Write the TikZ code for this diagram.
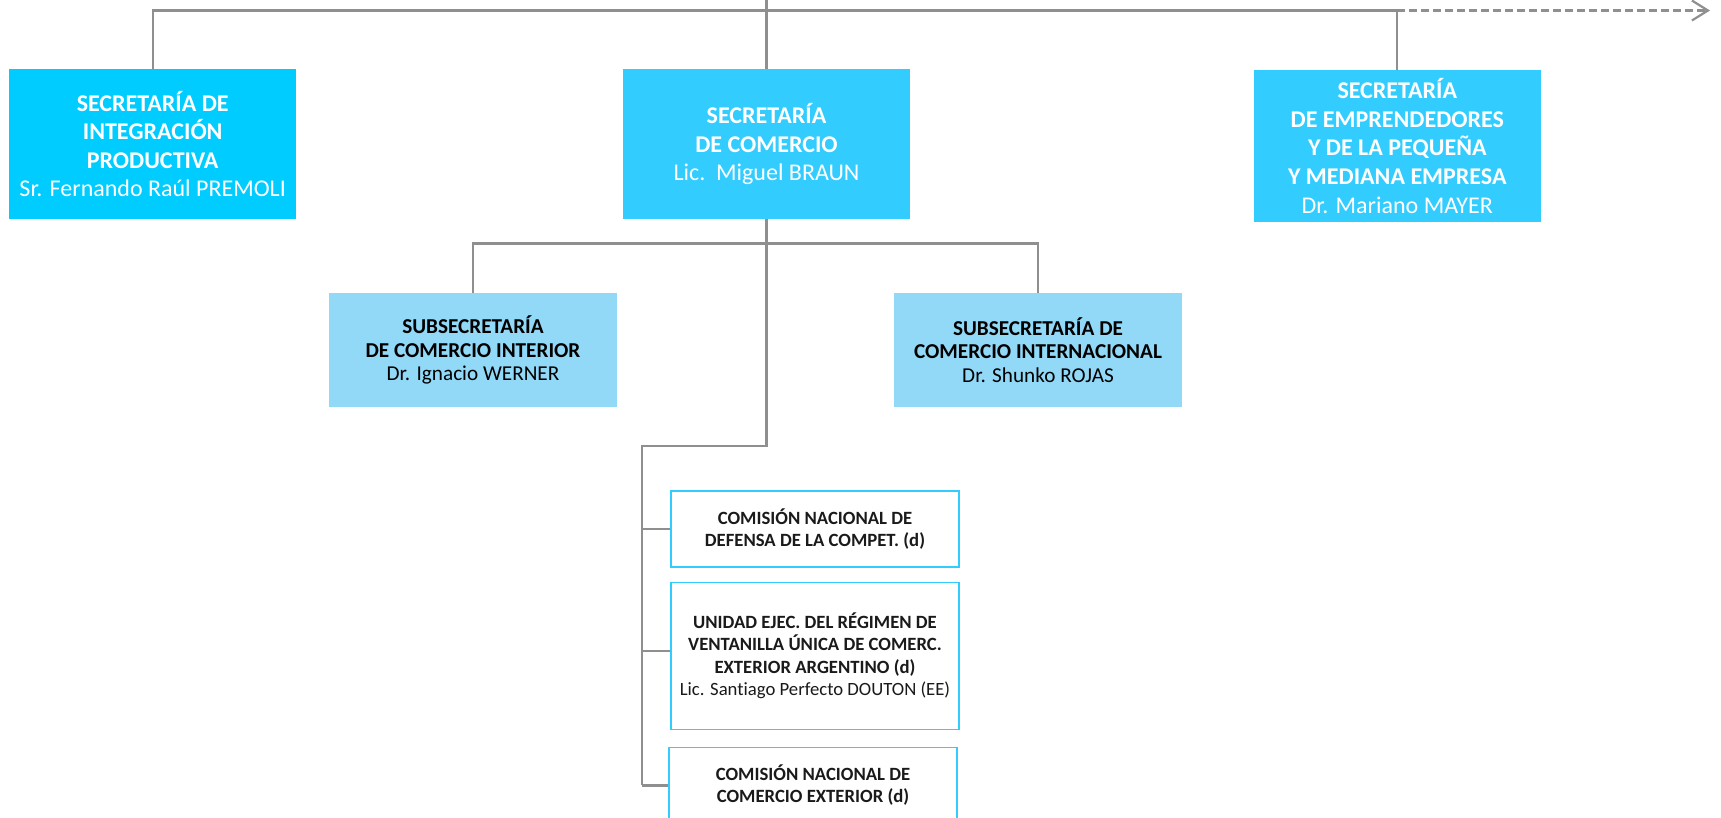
\documentclass[tikz,border=0pt]{standalone}
\usepackage{fontspec}
\setmainfont{Carlito}[Ligatures=NoCommon]
\usepackage{xcolor}
\usepackage{tikz}
\usetikzlibrary{arrows.meta,positioning}
\definecolor{secblue}{HTML}{00CCFF}
\definecolor{secmid}{HTML}{33CCFF}
\definecolor{subblue}{HTML}{91D9F7}
\definecolor{unitedge}{HTML}{33CCFF}
\definecolor{linkgray}{HTML}{8F8F8F}
\definecolor{ink}{HTML}{1A1A1A}
\tikzset{
  secbox/.style={
    rectangle,
    fill=secmid,
    text=white,
    align=center,
    minimum width=143.5pt,
    minimum height=75pt,
    inner sep=0pt,
    font=\fontsize{12}{14.3}\selectfont
  },
  subbox/.style={
    rectangle,
    fill=subblue,
    text=black,
    align=center,
    minimum width=144pt,
    minimum height=57pt,
    inner sep=0pt,
    font=\fontsize{10.6}{11.8}\selectfont
  },
  unitbox/.style={
    rectangle,
    draw=unitedge,
    line width=0.6pt,
    fill=white,
    text=ink,
    align=center,
    minimum width=144pt,
    minimum height=38pt,
    inner sep=0pt,
    font=\fontsize{9.35}{11.15}\selectfont
  },
  link/.style={
    draw=linkgray,
    line width=1.1pt
  },
  onward/.style={
    link,
    dash pattern=on 4pt off 2pt,
    -{Straight Barb[length=8pt,width=10pt,line width=1.1pt]}
  }
}

\begin{document}
\begin{tikzpicture}[x=0.5pt, y=-0.5pt]
\useasboundingbox (0,0) rectangle (1721,818);

% ---- Top row: the three secretarías ----
\node[secbox] (comercio) at (766.5,144) {
  \textbf{SECRETARÍA}\\
  \textbf{DE COMERCIO}\\
  Lic.~~Miguel BRAUN
};
\node[secbox, fill=secblue, left=163pt of comercio] (integracion) {
  \textbf{SECRETARÍA DE}\\
  \textbf{INTEGRACIÓN}\\
  \textbf{PRODUCTIVA}\\
  Sr. Fernando Raúl PREMOLI
};
\node[secbox, right=171.5pt of comercio, yshift=-1pt, minimum height=76pt] (emprendedores) {
  \textbf{SECRETARÍA}\\
  \textbf{DE EMPRENDEDORES}\\
  \textbf{Y DE LA PEQUEÑA}\\
  \textbf{Y MEDIANA EMPRESA}\\
  Dr. Mariano MAYER
};

% ---- Second row: subsecretarías ----
\node[subbox] (interior) at (473,350) {
  \textbf{SUBSECRETARÍA}\\
  \textbf{DE COMERCIO INTERIOR}\\
  Dr. Ignacio WERNER
};
\node[subbox] (internacional) at (1038,350) {
  \textbf{SUBSECRETARÍA DE}\\
  \textbf{COMERCIO INTERNACIONAL}\\
  Dr. Shunko ROJAS
};

% ---- Column of decentralised bodies ----
\node[unitbox] (defensa) at (815,529) {
  \textbf{COMISIÓN NACIONAL DE}\\
  \textbf{DEFENSA DE LA COMPET. (d)}
};
\node[unitbox, below=7pt of defensa, minimum height=73.5pt] (ventanilla) {
  \textbf{UNIDAD EJEC. DEL RÉGIMEN DE}\\
  \textbf{VENTANILLA ÚNICA DE COMERC.}\\
  \textbf{EXTERIOR ARGENTINO (d)}\\
  Lic. Santiago Perfecto DOUTON (EE)
};
\node[unitbox, below=8.5pt of ventanilla, xshift=-1pt] (comext) {
  \textbf{COMISIÓN NACIONAL DE}\\
  \textbf{COMERCIO EXTERIOR (d)}
};

% ---- Connectors ----
\coordinate (top) at (766.5,0);
\coordinate (bus) at (766.5,10.5);
\coordinate (more) at (1710,10.5);
\coordinate (elbow) at (642,446);

\draw[link] (top) -- (comercio.north);
\draw[link] (integracion.north) |- (bus) -| (emprendedores.north);
\draw[onward] (emprendedores.north |- bus) -- (more);

\draw[link] (interior.north) -- ++(0,-49) -| (internacional.north);
\draw[link] (comercio.south) |- (elbow) -- (elbow |- comext.west);

\draw[link] (elbow |- defensa.west) -- (defensa.west);
\draw[link] ([yshift=2.25pt]elbow |- ventanilla.west) -- ([yshift=2.25pt]ventanilla.west);
\draw[link] (elbow |- comext.west) -- (comext.west);

\end{tikzpicture}
\end{document}
